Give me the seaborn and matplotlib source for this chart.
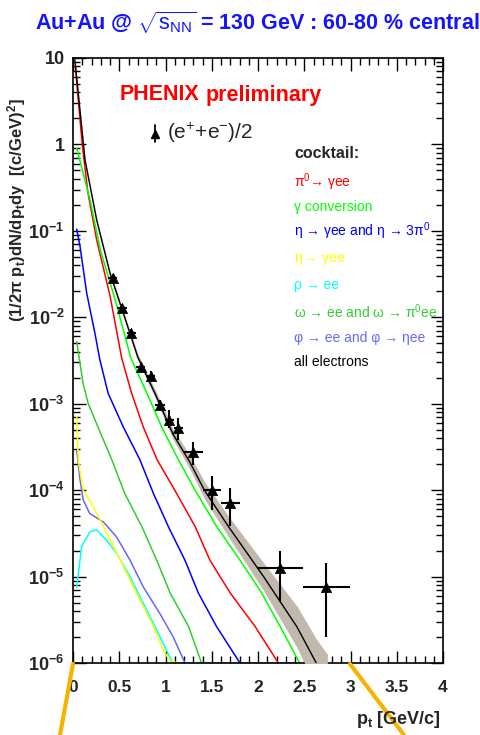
import numpy as np
import pandas as pd
import matplotlib
matplotlib.use("Agg")
import matplotlib.pyplot as plt
import seaborn as sns
from matplotlib.ticker import FixedLocator, MultipleLocator, FuncFormatter, NullFormatter
from matplotlib.lines import Line2D

# ---------------- data ----------------
# measured (e+ + e-)/2
pt_data = [0.43, 0.53, 0.63, 0.73, 0.84, 0.94, 1.04, 1.14, 1.30, 1.50, 1.70, 2.24, 2.74]
y_data = [2.82e-2, 1.27e-2, 6.53e-3, 2.64e-3, 2.09e-3, 9.66e-4, 6.49e-4, 5.20e-4,
          2.74e-4, 1.00e-4, 7.10e-5, 1.26e-5, 7.60e-6]
y_low = [2.50e-2, 1.13e-2, 5.80e-3, 2.35e-3, 1.85e-3, 8.50e-4, 5.25e-4, 3.80e-4,
         1.95e-4, 5.90e-5, 3.85e-5, 5.10e-6, 2.00e-6]
y_high = [3.20e-2, 1.43e-2, 7.40e-3, 2.97e-3, 2.36e-3, 1.10e-3, 8.50e-4, 6.90e-4,
          3.58e-4, 1.47e-4, 1.05e-4, 2.00e-5, 1.43e-5]
pt_err = [0.05, 0.05, 0.05, 0.05, 0.05, 0.05, 0.05, 0.05, 0.10, 0.10, 0.10, 0.25, 0.25]

# cocktail curves: pt and log10(yield)
all_pt = [0.02, 0.13, 0.256, 0.40, 0.544, 0.70, 0.886, 1.08, 1.265, 1.42, 1.68, 2.06, 2.42, 2.63, 2.75]
all_log = [0.98, -0.18, -0.874, -1.49, -1.954, -2.46, -2.88, -3.35, -3.68, -4.0, -4.42, -5.0, -5.58, -6.0, -6.2]
all_sys = [0.02, 0.02, 0.02, 0.03, 0.035, 0.04, 0.05, 0.06, 0.08, 0.10, 0.12, 0.16, 0.24, 0.28, 0.30]

pi0_pt = [0.025, 0.10, 0.16, 0.256, 0.40, 0.526, 0.634, 0.76, 0.91, 1.10, 1.32, 1.48, 1.70, 1.97, 2.22]
pi0_log = [0.9, 0.0, -0.55, -1.106, -1.75, -2.47, -2.88, -3.27, -3.65, -4.0, -4.42, -4.81, -5.19, -5.58, -6.0]

gam_pt = [0.04, 0.184, 0.30, 0.47, 0.625, 0.80, 0.959, 1.14, 1.32, 1.553, 1.805, 2.04, 2.24, 2.45]
gam_log = [-0.045, -0.64, -1.24, -1.85, -2.47, -2.88, -3.27, -3.65, -4.0, -4.42, -4.81, -5.19, -5.58, -6.0]

eta_pt = [0.04, 0.076, 0.148, 0.238, 0.29, 0.38, 0.544, 0.724, 0.87, 1.03, 1.21, 1.355, 1.553, 1.805]
eta_log = [-0.98, -1.18, -1.72, -2.19, -2.49, -2.88, -3.27, -3.65, -4.04, -4.42, -4.81, -5.19, -5.58, -6.0]

etap_pt = [0.04, 0.057, 0.11, 0.22, 0.33, 0.436, 0.58, 0.724, 0.87, 0.976, 1.05, 1.15]
etap_log = [-3.15, -3.65, -4.0, -4.19, -4.42, -4.65, -4.96, -5.27, -5.58, -5.85, -5.98, -6.0]

rho_pt = [0.04, 0.094, 0.184, 0.256, 0.364, 0.47, 0.616, 0.76, 0.905, 1.01, 1.08, 1.45]
rho_log = [-5.12, -4.65, -4.48, -4.46, -4.58, -4.73, -5.0, -5.31, -5.62, -5.85, -6.0, -6.0]

omega_pt = [0.04, 0.11, 0.165, 0.27, 0.42, 0.56, 0.743, 0.905, 1.05, 1.25, 1.39]
omega_log = [-2.28, -2.77, -3.0, -3.27, -3.65, -4.04, -4.42, -4.81, -5.19, -5.58, -6.0]

phi_pt = [0.04, 0.076, 0.11, 0.18, 0.33, 0.47, 0.616, 0.76, 0.94, 1.084, 1.21, 2.45]
phi_log = [-3.54, -3.88, -4.11, -4.27, -4.37, -4.54, -4.81, -5.12, -5.43, -5.70, -6.0, -6.0]

curve_names = ["phi", "rho", "etap", "omega", "eta", "pi0", "gam"]
curve_pts = {"pi0": pi0_pt, "gam": gam_pt, "eta": eta_pt, "etap": etap_pt,
             "rho": rho_pt, "omega": omega_pt, "phi": phi_pt}
curve_logs = {"pi0": pi0_log, "gam": gam_log, "eta": eta_log, "etap": etap_log,
              "rho": rho_log, "omega": omega_log, "phi": phi_log}
curve_colors = {"pi0": "#ff0000", "gam": "#00ff00", "eta": "#0000ff", "etap": "#ffff00",
                "rho": "#00ffff", "omega": "#33cc33", "phi": "#6666ff"}

legend_labels = ["π$^{0}$→ γee", "γ conversion",
                 "η → γee and η → 3π$^{0}$",
                 "η$^{'}$→ γee", "ρ → ee",
                 "ω → ee and ω → π$^{0}$ee",
                 "φ → ee and φ → ηee", "all electrons"]
legend_colors = ["#ff0000", "#00ff00", "#0000ff", "#ffff00", "#00ffff", "#33cc33", "#6666ff", "black"]

# ---------------- style ----------------
sns.set_style("ticks")
plt.rcParams['font.family'] = ['Liberation Sans', 'DejaVu Sans']
plt.rcParams['mathtext.fontset'] = 'custom'
plt.rcParams['mathtext.rm'] = 'Liberation Sans'
plt.rcParams['mathtext.it'] = 'Liberation Sans:italic'
plt.rcParams['mathtext.bf'] = 'Liberation Sans:bold'
plt.rcParams['mathtext.sf'] = 'Liberation Sans'

W, H = 481, 735
fig = plt.figure(figsize=(W / 100, H / 100), dpi=100)
fig.patch.set_facecolor("white")
L, R, T, B = 73, 443, 58, 663
ax = fig.add_axes([L / W, 1 - B / H, (R - L) / W, (B - T) / H])
ax.set_yscale("log")
ax.set_xlim(0, 4)
ax.set_ylim(1e-6, 10)

def fx(px):
    return px / W

def fy(py):
    return 1 - py / H

# cocktail lines
rows = []
for name in curve_names:
    for p, lg in zip(curve_pts[name], curve_logs[name]):
        rows.append({"source": name, "pt": p, "y": 10.0 ** lg})
df = pd.DataFrame(rows)
sns.lineplot(data=df, x="pt", y="y", hue="source", hue_order=curve_names,
             palette=curve_colors, estimator=None, sort=False, legend=False,
             linewidth=1.1, ax=ax)

# systematic band + all electrons
all_y = 10.0 ** np.array(all_log)
sys_arr = np.array(all_sys)
ax.fill_between(all_pt, all_y * 10.0 ** (-sys_arr), all_y * 10.0 ** sys_arr,
                color="#c2b9ae", lw=0, zorder=3)
sns.lineplot(x=all_pt, y=all_y, color="black", linewidth=1.0, estimator=None,
             sort=False, ax=ax, zorder=4)

# data points
yd = np.array(y_data)
ax.errorbar(pt_data, yd, yerr=[yd - np.array(y_low), np.array(y_high) - yd],
            xerr=pt_err, fmt="none", ecolor="black", elinewidth=1.5, capsize=0, zorder=5)
sns.scatterplot(x=pt_data, y=y_data, marker="^", s=55, color="black",
                edgecolor="black", linewidth=0.5, ax=ax, zorder=6)

# axes styling (ROOT-like)
for s in ax.spines.values():
    s.set_linewidth(1.2)
    s.set_color("black")
    s.set_visible(True)
ax.xaxis.set_major_locator(MultipleLocator(0.5))
ax.xaxis.set_minor_locator(MultipleLocator(0.1))
ax.yaxis.set_major_locator(FixedLocator([10.0 ** k for k in range(-6, 2)]))
ax.yaxis.set_minor_locator(FixedLocator([m * 10.0 ** k for k in range(-6, 1) for m in range(2, 10)]))
ax.yaxis.set_minor_formatter(NullFormatter())

def xfmt(v, pos):
    return "%g" % v

def yfmt(v, pos):
    k = int(round(np.log10(v)))
    if k == 1:
        return "10"
    if k == 0:
        return "1"
    return r"$\mathbf{10^{%d}}$" % k

ax.xaxis.set_major_formatter(FuncFormatter(xfmt))
ax.yaxis.set_major_formatter(FuncFormatter(yfmt))
ax.tick_params(which="both", direction="in", top=True, right=True, color="black")
ax.tick_params(which="major", length=9, width=1.0)
ax.tick_params(which="minor", length=5, width=1.0)
ax.tick_params(axis="x", which="major", pad=12, labelsize=12.5)
ax.tick_params(axis="y", which="major", pad=6, labelsize=13)
for lab in ax.get_xticklabels() + ax.get_yticklabels():
    lab.set_fontweight("bold")
ax.set_xlabel("")
ax.set_ylabel("")

# texts
fig.text(fx(257), fy(22), r"Au+Au @ $\sqrt{\mathrm{s}_{\mathrm{NN}}}$ = 130 GeV : 60-80 % central",
         color="#1414ff", fontsize=15.5, fontweight="bold", ha="center", va="center")
fig.text(fx(17), fy(210), r"$\mathbf{(1/2\pi\ p_{t})dN/dp_{t}dy\ \ [(c/GeV)^{2}]}$",
         rotation=90, fontsize=12, ha="center", va="center")
fig.text(fx(441), fy(719), r"$\mathbf{p_{t}}$ [GeV/c]", fontsize=13, fontweight="bold",
         ha="right", va="center")

fig.text(fx(120), fy(95), "PHENIX", color="#ff0000", fontsize=15.5, fontweight="bold",
         ha="left", va="center")
fig.text(fx(206), fy(95), "preliminary", color="#ff0000", fontsize=15.5, fontweight="bold",
         ha="left", va="center")
fig.text(fx(167), fy(133), r"(e$^{+}$+e$^{-}$)/2", fontsize=15, ha="left", va="center")
fig.add_artist(Line2D([fx(155), fx(155)], [fy(125), fy(142)], color="black", lw=1.3))
fig.add_artist(Line2D([fx(155)], [fy(134)], marker="^", markersize=6, color="black"))

fig.text(fx(294), fy(154), "cocktail:", fontsize=11.5, fontweight="bold", ha="left", va="center")
legend_y = [182, 207, 231, 257, 285, 312, 338, 362]
for lab, col, yy in zip(legend_labels, legend_colors, legend_y):
    fig.text(fx(294), fy(yy), lab, color=col, fontsize=10, ha="left", va="center")

# orange call-out lines below the frame
fig.add_artist(Line2D([fx(73), fx(60)], [fy(664), fy(735)], color="#f5b400", lw=3))
fig.add_artist(Line2D([fx(350), fx(404)], [fy(664), fy(735)], color="#f5b400", lw=3))

fig.savefig("out.png", dpi=100)
